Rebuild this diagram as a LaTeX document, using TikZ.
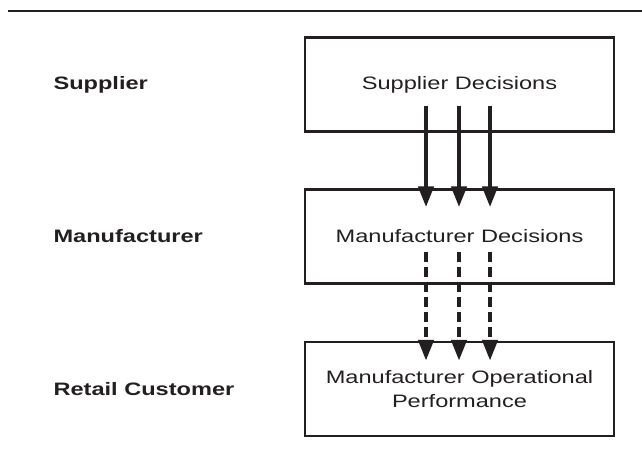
\documentclass[tikz,border=0pt]{standalone}
\usepackage{fontspec}
\setmainfont{Liberation Sans}
\usepackage{graphicx}
\usetikzlibrary{arrows.meta,positioning}

\definecolor{ink}{HTML}{231F20}
\newcommand{\wide}[1]{\scalebox{1.31}[1]{#1}}

\tikzset{
	decbox/.style={draw=ink, line width=2.4pt, minimum width=309pt, minimum height=94pt,
		inner sep=0pt, align=center, text=ink, font=\fontsize{18}{24}\selectfont},
	tier/.style={anchor=west, text=ink, font=\fontsize{18}{24}\selectfont\bfseries},
	flow/.style={ink, line width=4.5pt, -{Triangle[length=21pt,width=15pt]}},
}

\begin{document}
\begin{tikzpicture}[x=1pt,y=-1pt]
		\useasboundingbox (0,0) rectangle (642,457);
		\draw[ink, line width=2.5pt] (8,11) -- (642,11);

		\node[decbox] (sup) at (459.5,84.5) {\wide{Supplier Decisions}};
		\node[decbox] (man) at (459.5,236.5) {\wide{Manufacturer Decisions}};
		\node[decbox] (ret) at (459.5,389) {\wide{Manufacturer Operational}\\\wide{Performance}};

		\node[tier] (tsup) at (50,84.5) {\wide{Supplier}};
		\node[tier] (tman) at (50,236.5) {\wide{Manufacturer}};
		\node[tier] (tret) at (50,389) {\wide{Retail Customer}};

		\foreach \dx in {-33.5,-0.5,30.5} {
			\draw[flow] ([xshift=\dx pt,yshift=27pt]sup.south) -- ([xshift=\dx pt,yshift=-19pt]man.north);
			\draw[flow, dash pattern=on 10pt off 5pt] ([xshift=\dx pt,yshift=33pt]man.south) -- ([xshift=\dx pt,yshift=-20pt]ret.north);
		}
	\end{tikzpicture}
\end{document}
